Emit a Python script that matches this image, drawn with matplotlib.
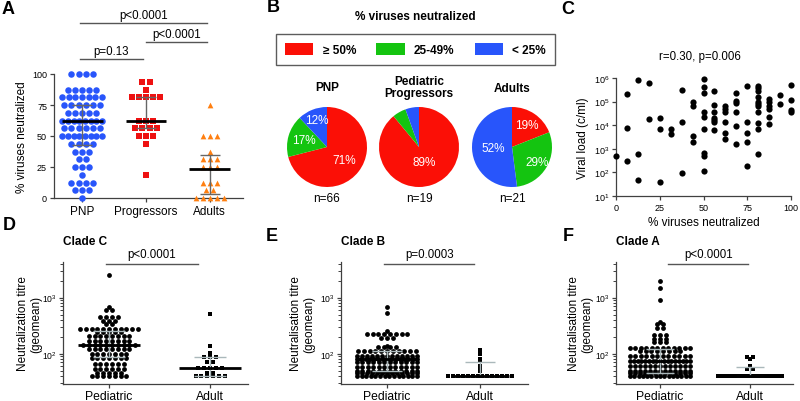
import numpy as np
import matplotlib
matplotlib.use("Agg")
import matplotlib.pyplot as plt
from matplotlib.patches import Patch
from matplotlib.ticker import NullLocator, NullFormatter, LogLocator

plt.rcParams['font.family'] = ['Liberation Sans', 'DejaVu Sans']

# ---------------- data ----------------
# A: % viruses neutralized per subject
a_groups = ['PNP', 'Progressors', 'Adults']
pnp_pct = ([100]*4 + [87.5]*5 + [81.25]*7 + [75]*6 + [68.75]*5 + [62.5]*8 + [56.25]*6 + [50]*8
           + [43.75]*4 + [37.5]*3 + [31.25]*2 + [25]*3 + [18.75] + [12.5]*4 + [6.25]*3 + [0])
prog_pct = [93.75]*2 + [87.5] + [81.25]*5 + [62.5]*3 + [56.25]*4 + [50]*3 + [43.75] + [18.75]
adult_pct = [75] + [50]*3 + [37.5] + [31.25]*3 + [25]*3 + [12.5]*3 + [6.25]*2 + [0]*5
a_median = [62.5, 62.5, 23]
a_low = [42.5, 56.25, 3]
a_high = [75, 81.25, 35]

# B: pies
pie_titles = ['PNP', 'Pediatric\nProgressors', 'Adults']
pie_n = [66, 19, 21]
pie_pct = [[71, 17, 12], [89, 5.5, 5.5], [19, 29, 52]]
pie_text = [['71%', '17%', '12%'], ['89%', '', ''], ['19%', '29%', '52%']]
legend_labels = ['\u2265 50%', '25-49%', '< 25%']

# C: viral load vs % neutralized
c_pct = ([0] + [6.25]*3 + [12.5]*3 + [18.75]*2 + [25]*3 + [31.25]*2 + [37.5]*3 + [43.75]*4
         + [50]*9 + [56.25]*7 + [62.5]*6 + [68.75]*6 + [75]*5 + [81.25]*11 + [87.5]*6
         + [93.75]*2 + [100]*4)
c_load = [500,
          2e5, 7.8e3, 310,
          8.5e5, 630, 49,
          5.9e5, 1.9e4,
          2e4, 6.8e3, 40,
          6.6e3, 4.3e3,
          3e5, 1.4e4, 90,
          1e5, 6.5e4, 3.5e3, 1.9e3,
          9e5, 4e5, 2.4e5, 3.8e4, 2.3e4, 6.7e3, 670, 500, 110,
          2.8e5, 7e4, 3.8e4, 2.1e4, 1.7e4, 1.4e4, 6.3e3,
          6.5e4, 4.8e4, 3.8e4, 1.4e4, 4.5e3, 2.6e3,
          2.3e5, 1.1e5, 8.4e4, 3.7e4, 9.4e3, 1.6e3,
          4.7e5, 1.4e4, 4.9e3, 2e3, 180,
          4.4e5, 3.7e5, 2.8e5, 1.5e5, 1e5, 8e4, 6.3e4, 3.5e4, 1.3e4, 6.6e3, 580,
          1.3e5, 9.3e4, 6.7e4, 4.8e4, 2.3e4, 1.1e4,
          1.9e5, 7.6e4,
          5.2e5, 1.2e5, 4.5e4, 3.8e4]

# D-F: neutralisation titres (geomean)
clade_c_ped = ([2500, 690] + [610]*2 + [450]*4 + [380]*3 + [340]*2 + [275]*11 + [245]*5 + [205]*8
               + [172]*8 + [145]*10 + [120]*8 + [100]*7 + [83]*7 + [67]*6 + [53]*6 + [46]*5 + [40]*7)
clade_c_adult = [505, 140, 103, 100] + [89]*3 + [72]*2 + [55]*5 + [46]*2 + [40]*6
clade_b_ped = ([690, 540, 250] + [225]*8 + [190]*3 + [140] + [130]*4 + [112]*11 + [92]*13 + [80]*15
               + [70]*12 + [59]*12 + [50]*12 + [45]*13 + [40]*14)
clade_b_adult = [115, 100, 80, 77, 75, 73, 60, 58, 50] + [40]*14
clade_a_ped = ([1950, 1500, 920, 375] + [335]*2 + [290]*2 + [220]*3 + [185]*3 + [160]*3 + [127]*12
               + [113]*8 + [92]*12 + [74]*17 + [60]*13 + [50]*13 + [45]*13 + [40]*15)
clade_a_adult = [87]*2 + [80, 60] + [53]*2 + [40]*18
titre_median = {'C': [145, 55], 'B': [80, 40], 'A': [74, 40]}
titre_iqr = {'C': [(88, 250), (40, 88)], 'B': [(50, 112), (40, 72)], 'A': [(46, 120), (40, 58)]}

red, green, blue = '#fb0f06', '#14c410', '#2855fb'
axis_col = '#404040'
W, H = 800, 402

fig = plt.figure(figsize=(8, 4.02), dpi=100)


def px_axes(l, t, r, b):
    return fig.add_axes([l / W, 1 - b / H, (r - l) / W, (b - t) / H])


def row_layout(vals, step, maxhalf):
    # spread equal values side by side, squeezing long rows (GraphPad-style)
    vals = np.asarray(vals, float)
    xs = np.zeros(len(vals))
    for v in np.unique(vals):
        idx = np.where(vals == v)[0]
        n = len(idx)
        if n > 1:
            st = min(step, 2 * maxhalf / (n - 1))
            xs[idx] = (np.arange(n) - (n - 1) / 2) * st
    return xs


def style(ax):
    for s in ['top', 'right']:
        ax.spines[s].set_visible(False)
    for s in ['left', 'bottom']:
        ax.spines[s].set_color(axis_col)
        ax.spines[s].set_linewidth(0.9)
    ax.tick_params(color=axis_col, width=0.9, length=3, pad=2)


# ---------------- A ----------------
axA = px_axes(54, 75, 243, 199)
style(axA)
xpu = 64.5
a_data = [pnp_pct, prog_pct, adult_pct]
a_marks = [('o', blue, 22), ('s', '#ee1111', 20), ('^', '#ff7f10', 17)]
for i, (vals, (m, col, s)) in enumerate(zip(a_data, a_marks)):
    off = row_layout(vals, 7.2, 20) / xpu
    axA.scatter(i + off, vals, marker=m, s=s, color=col, linewidths=0, clip_on=False, zorder=3)
    axA.vlines(i, a_low[i], a_high[i], color='#666666', lw=1, zorder=4)
    axA.hlines([a_low[i], a_high[i]], i - 0.16, i + 0.16, color='#666666', lw=1, zorder=4)
    axA.hlines(a_median[i], i - 0.32, i + 0.32, color='black', lw=2, zorder=5)
axA.set_xlim(-0.44, 2.52)
axA.set_ylim(0, 100)
axA.set_yticks([0, 25, 50, 75, 100])
axA.set_xticks(range(3))
axA.set_xticklabels(a_groups, fontsize=8.5)
axA.tick_params(axis='y', labelsize=6.5)
axA.set_ylabel('% viruses neutralized', fontsize=8.5, labelpad=3)
tr = axA.get_xaxis_transform()
for x0, x1, yl, label in [(-0.03, 0.95, 1.12, 'p=0.13'), (1.0, 1.95, 1.26, 'p<0.0001'),
                          (-0.03, 1.95, 1.41, 'p<0.0001')]:
    axA.plot([x0, x1], [yl, yl], color='#555555', lw=1, transform=tr, clip_on=False)
    axA.text((x0 + x1) / 2, yl + 0.065, label, transform=tr, ha='center', va='center', fontsize=8.3)

# ---------------- B ----------------
fig.text(415 / W, 1 - 17 / H, '% viruses neutralized', ha='center', va='center',
         fontsize=8.5, fontweight='bold')
handles = [Patch(facecolor=c, edgecolor='none') for c in (red, green, blue)]
leg = fig.legend(handles, legend_labels, loc='center', bbox_to_anchor=(415.5 / W, 1 - 50.5 / H),
                 ncol=3, frameon=True, fancybox=False, edgecolor='#333333',
                 handlelength=2.4, handleheight=1.2, handletextpad=0.8, columnspacing=1.7,
                 borderpad=0.8, prop={'weight': 'bold', 'size': 8.5})
leg.get_frame().set_linewidth(1.0)

pie_cx = [327, 419, 512]
pie_cy = 148
rad = 40
label_r = [[0.53, 0.6, 0.72], [0.4, 0.6, 0.6], [0.65, 0.73, 0.48]]
title_y = [88, 88, 89]
for k in range(3):
    ax = px_axes(pie_cx[k] - rad, pie_cy - rad, pie_cx[k] + rad, pie_cy + rad)
    wedges, _ = ax.pie(pie_pct[k], colors=[red, green, blue], startangle=90, counterclock=False,
                       radius=1, wedgeprops=dict(linewidth=0))
    ax.set_xlim(-1, 1)
    ax.set_ylim(-1, 1)
    for w, lab, r in zip(wedges, pie_text[k], label_r[k]):
        ang = np.deg2rad((w.theta1 + w.theta2) / 2)
        ax.text(r * np.cos(ang), r * np.sin(ang), lab, color='white', ha='center', va='center',
                fontsize=8.5)
    fig.text(pie_cx[k] / W, 1 - title_y[k] / H, pie_titles[k], ha='center', va='center',
             fontsize=8.5, fontweight='bold', linespacing=1.1)
    fig.text(pie_cx[k] / W, 1 - 199 / H, 'n=%d' % pie_n[k], ha='center', va='center', fontsize=8.5)

# ---------------- C ----------------
axC = px_axes(616, 79, 791, 197)
style(axC)
axC.scatter(c_pct, c_load, s=20, color='black', linewidths=0, clip_on=False, zorder=3)
axC.set_yscale('log')
axC.set_xlim(0, 100)
axC.set_ylim(10, 1e6)
axC.set_xticks([0, 25, 50, 75, 100])
axC.set_yticks([1e1, 1e2, 1e3, 1e4, 1e5, 1e6])
axC.yaxis.set_minor_locator(NullLocator())
axC.tick_params(labelsize=6.5)
axC.set_xlabel('% viruses neutralized', fontsize=8.5, labelpad=3)
axC.set_ylabel('Viral load (c/ml)', fontsize=8.5, labelpad=3)
axC.text(0.48, 1.19, 'r=0.30, p=0.006', transform=axC.transAxes, ha='center', va='center',
         fontsize=8.3)

# ---------------- D-F ----------------
panels = [
    ('C', 'Clade C', 'Neutralization titre\n(geomean)', clade_c_ped, clade_c_adult,
     (63, 248), (109, 210), 'p<0.0001', (-0.03, 0.88), 21),
    ('B', 'Clade B', 'Neutralisation titre\n(geomean)', clade_b_ped, clade_b_adult,
     (341, 528), (387, 480), 'p=0.0003', (-0.03, 0.94), 26),
    ('A', 'Clade A', 'Neutralisation titre\n(geomean)', clade_a_ped, clade_a_adult,
     (616, 793), (660, 750), 'p<0.0001', (0.09, 0.98), 23),
]
for key, title, ylab, ped, adult, (l, r), (cp, ca), ptxt, (p0, p1), lab_off in panels:
    ax = px_axes(l, 263, r, 385)
    style(ax)
    xpu = ca - cp
    for i, (vals, m, s) in enumerate([(ped, 'o', 12), (adult, 's', 11)]):
        off = row_layout(vals, 5.8, 30 if i == 0 else 32) / xpu
        ax.scatter(i + off, vals, marker=m, s=s, color='black', linewidths=0, clip_on=False, zorder=3)
        lo, hi = titre_iqr[key][i]
        ax.vlines(i, lo, hi, color='#aab8bb', lw=1, zorder=4)
        ax.hlines([lo, hi], i - 0.16, i + 0.16, color='#aab8bb', lw=1, zorder=4)
        ax.hlines(titre_median[key][i], i - 0.31, i + 0.31, color='black', lw=2, zorder=5)
    ax.set_yscale('log')
    ax.set_ylim(29, 4300)
    ax.set_xlim((l - cp) / xpu, 1 + (r - ca) / xpu)
    ax.set_yticks([100, 1000])
    ax.yaxis.set_minor_locator(LogLocator(base=10, subs=np.arange(2, 10)))
    ax.yaxis.set_minor_formatter(NullFormatter())
    ax.tick_params(axis='y', which='minor', length=2, width=0.7, color=axis_col)
    ax.tick_params(axis='y', labelsize=6.2, pad=1.5)
    ax.tick_params(axis='x', pad=1)
    ax.set_xticks([0, 1])
    ax.set_xticklabels(['Pediatric', 'Adult'], fontsize=8.7)
    ax.set_ylabel(ylab, fontsize=8.5, linespacing=1.1)
    ax.yaxis.set_label_coords(-lab_off / (r - l), 0.5)
    ax.text(0.0, 1.17, title, transform=ax.transAxes, ha='left', va='center',
            fontsize=8.5, fontweight='bold')
    trx = ax.get_xaxis_transform()
    ax.plot([p0, p1], [0.985, 0.985], color='#555555', lw=1, transform=trx, clip_on=False)
    ax.text((p0 + p1) / 2, 1.065, ptxt, transform=trx, ha='center', va='center', fontsize=8.3)

# panel letters
for letter, x, y in [('A', 8, 9), ('B', 273, 8), ('C', 568, 9),
                     ('D', 9, 226), ('E', 272, 237), ('F', 568, 237)]:
    fig.text(x / W, 1 - y / H, letter, ha='center', va='center', fontsize=13, fontweight='bold')

fig.savefig('out.png', dpi=100)
